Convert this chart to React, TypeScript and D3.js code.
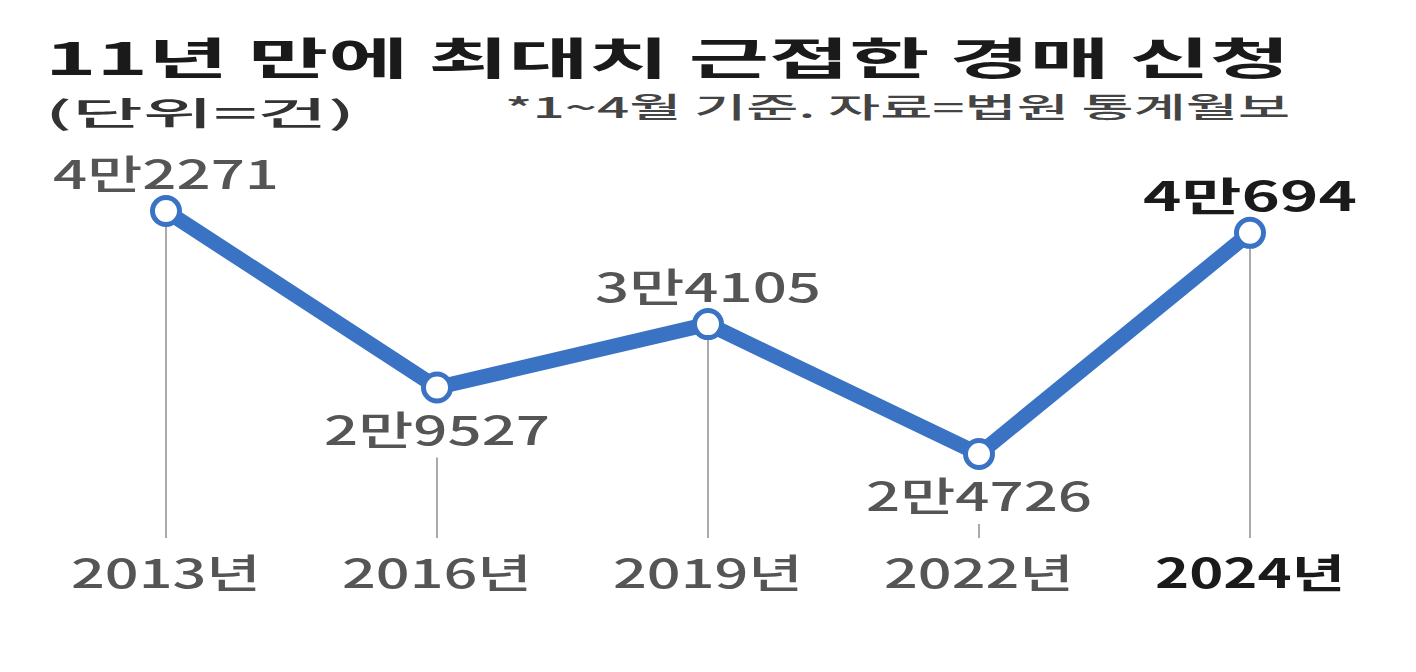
import React from "react";
import * as d3 from "d3";

const years = ["2013년", "2016년", "2019년", "2022년", "2024년"];
const values = [42271, 29527, 34105, 24726, 40694];
const valueLabels = ["4만2271", "2만9527", "3만4105", "2만4726", "4만694"];
const labelSides = ["above", "below", "above", "below", "above"];

const W = 1416;
const H = 672;
const FONT = "'Noto Sans CJK KR', 'Noto Sans', sans-serif";
const BLUE = "#3a73c4";

export default function App() {
  const x = d3.scalePoint<string>().domain(years).range([166, 1250]);
  const y = d3.scaleLinear().domain([24726, 42271]).range([454, 211]);
  const line = d3
    .line<number>()
    .x((_, i) => x(years[i]) as number)
    .y((d) => y(d));

  const baseY = 538;
  return (
    <svg
      width={W}
      height={H}
      style={{ position: "absolute", left: 0, top: 0, background: "#fff" }}
      fontFamily={FONT}
    >
      <text x={45} y={75} fontSize={44} fontWeight={700} fill="#1a1a1a" textLength={1245} lengthAdjust="spacingAndGlyphs">
        11년 만에 최대치 근접한 경매 신청
      </text>
      <text x={45} y={125} fontSize={32} fontWeight={500} fill="#333" textLength={310} lengthAdjust="spacingAndGlyphs">
        (단위=건)
      </text>
      <text x={505} y={118} fontSize={28} fontWeight={500} fill="#444" textLength={785} lengthAdjust="spacingAndGlyphs">
        *1~4월 기준. 자료=법원 통계월보
      </text>

      {years.map((yr, i) => {
        const cx = x(yr) as number;
        const cy = y(values[i]);
        const top = labelSides[i] === "above" ? cy + 14 : cy + 70;
        return <line key={"g" + i} x1={cx} x2={cx} y1={top} y2={baseY} stroke="#aaa" strokeWidth={2} />;
      })}

      <path d={line(values) || ""} fill="none" stroke={BLUE} strokeWidth={15} strokeLinejoin="round" />

      {years.map((yr, i) => (
        <circle key={"c" + i} cx={x(yr) as number} cy={y(values[i])} r={13.5} fill="#fff" stroke={BLUE} strokeWidth={5} />
      ))}

      {years.map((yr, i) => {
        const cx = x(yr) as number;
        const cy = y(values[i]);
        const last = i === years.length - 1;
        const ly = labelSides[i] === "above" ? cy - 22 : cy + 57;
        return (
          <text
            key={"v" + i}
            x={cx}
            y={ly}
            textAnchor="middle"
            fontSize={40}
            fontWeight={last ? 700 : 500}
            fill={last ? "#1a1a1a" : "#555"}
            textLength={last ? 214 : 226}
            lengthAdjust="spacingAndGlyphs"
          >
            {valueLabels[i]}
          </text>
        );
      })}

      {years.map((yr, i) => {
        const last = i === years.length - 1;
        return (
          <text
            key={"y" + i}
            x={x(yr) as number}
            y={588}
            textAnchor="middle"
            fontSize={40}
            fontWeight={last ? 700 : 500}
            fill={last ? "#1a1a1a" : "#555"}
            textLength={190}
            lengthAdjust="spacingAndGlyphs"
          >
            {yr}
          </text>
        );
      })}
    </svg>
  );
}
